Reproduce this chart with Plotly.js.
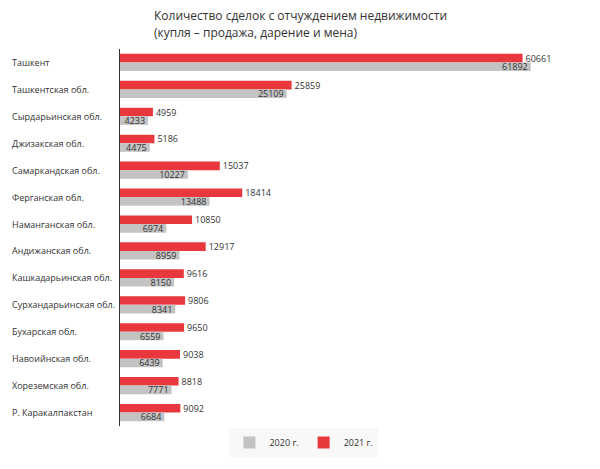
<!DOCTYPE html>
<html>
<head>
<meta charset="utf-8">
<script src="https://cdn.plot.ly/plotly-3.0.1.min.js"></script>
<style>html,body{margin:0;padding:0;background:#fff;}#chart{width:600px;height:469px;}</style>
</head>
<body>
<div id="chart"></div>
<script>
var categories = ["Ташкент", "Ташкентская обл.", "Сырдарьинская обл.", "Джизакская обл.", "Самаркандская обл.", "Ферганская обл.", "Наманганская обл.", "Андижанская обл.", "Кашкадарьинская обл.", "Сурхандарьинская обл.", "Бухарская обл.", "Навоийнская обл.", "Хореземская обл.", "Р. Каракалпакстан"];
var values2021 = [60661, 25859, 4959, 5186, 15037, 18414, 10850, 12917, 9616, 9806, 9650, 9038, 8818, 9092];
var values2020 = [61892, 25109, 4233, 4475, 10227, 13488, 6974, 8959, 8150, 8341, 6559, 6439, 7771, 6684];
var seriesNames = ["2021 г.", "2020 г."];
var titleLines = ["Количество сделок с отчуждением недвижимости", "(купля – продажа, дарение и мена)"];

var FONT = "Open Sans, DejaVu Sans, sans-serif";
var TXT = "#333333";

var traces = [
  {
    type: "bar", orientation: "h", name: seriesNames[0],
    y: categories, x: values2021,
    marker: {color: "#e8383d"},
    text: values2021.map(String), textposition: "outside",
    textfont: {family: FONT, size: 9, color: TXT},
    cliponaxis: false, constraintext: "none", hoverinfo: "x+y"
  },
  {
    type: "bar", orientation: "h", name: seriesNames[1],
    y: categories, x: values2020,
    marker: {color: "#c3c3c3"},
    text: values2020.map(String), textposition: "inside", insidetextanchor: "end",
    textfont: {family: FONT, size: 9, color: TXT},
    constraintext: "none", hoverinfo: "x+y"
  }
];

var annotations = categories.map(function (c) {
  return {
    text: c, xref: "paper", yref: "y", x: -0.251, y: c,
    xanchor: "left", yanchor: "middle", showarrow: false,
    font: {family: FONT, size: 9, color: TXT}
  };
});
// title lines, placed in pixels relative to the plot area (plot top = 49px, height = 393px)
titleLines.forEach(function (line, i) {
  var centerPx = 14 + i * 18;
  annotations.push({
    text: line, xref: "paper", yref: "paper",
    x: (152 - 120) / 438, y: 1 + (49 - centerPx) / 393,
    xanchor: "left", yanchor: "middle", showarrow: false,
    font: {family: FONT, size: 12, color: TXT}
  });
});

var layout = {
  width: 600, height: 469,
  margin: {l: 120, r: 42, t: 49, b: 27},
  paper_bgcolor: "#ffffff", plot_bgcolor: "#ffffff",
  barmode: "group", bargap: 0.36, bargroupgap: 0,
  xaxis: {range: [0, 66000], visible: false, showgrid: false, zeroline: false},
  yaxis: {
    autorange: "reversed", showticklabels: false, ticks: "",
    showline: true, linecolor: "#333333", linewidth: 1.5,
    showgrid: false, zeroline: false
  },
  showlegend: true,
  legend: {
    orientation: "h", traceorder: "reversed",
    x: 0.42, xanchor: "center", y: -0.005, yanchor: "top",
    bgcolor: "#f8f8f8",
    font: {family: FONT, size: 9, color: TXT}
  },
  annotations: annotations
};

Plotly.newPlot("chart", traces, layout, {displayModeBar: false, staticPlot: true});
</script>
</body>
</html>
